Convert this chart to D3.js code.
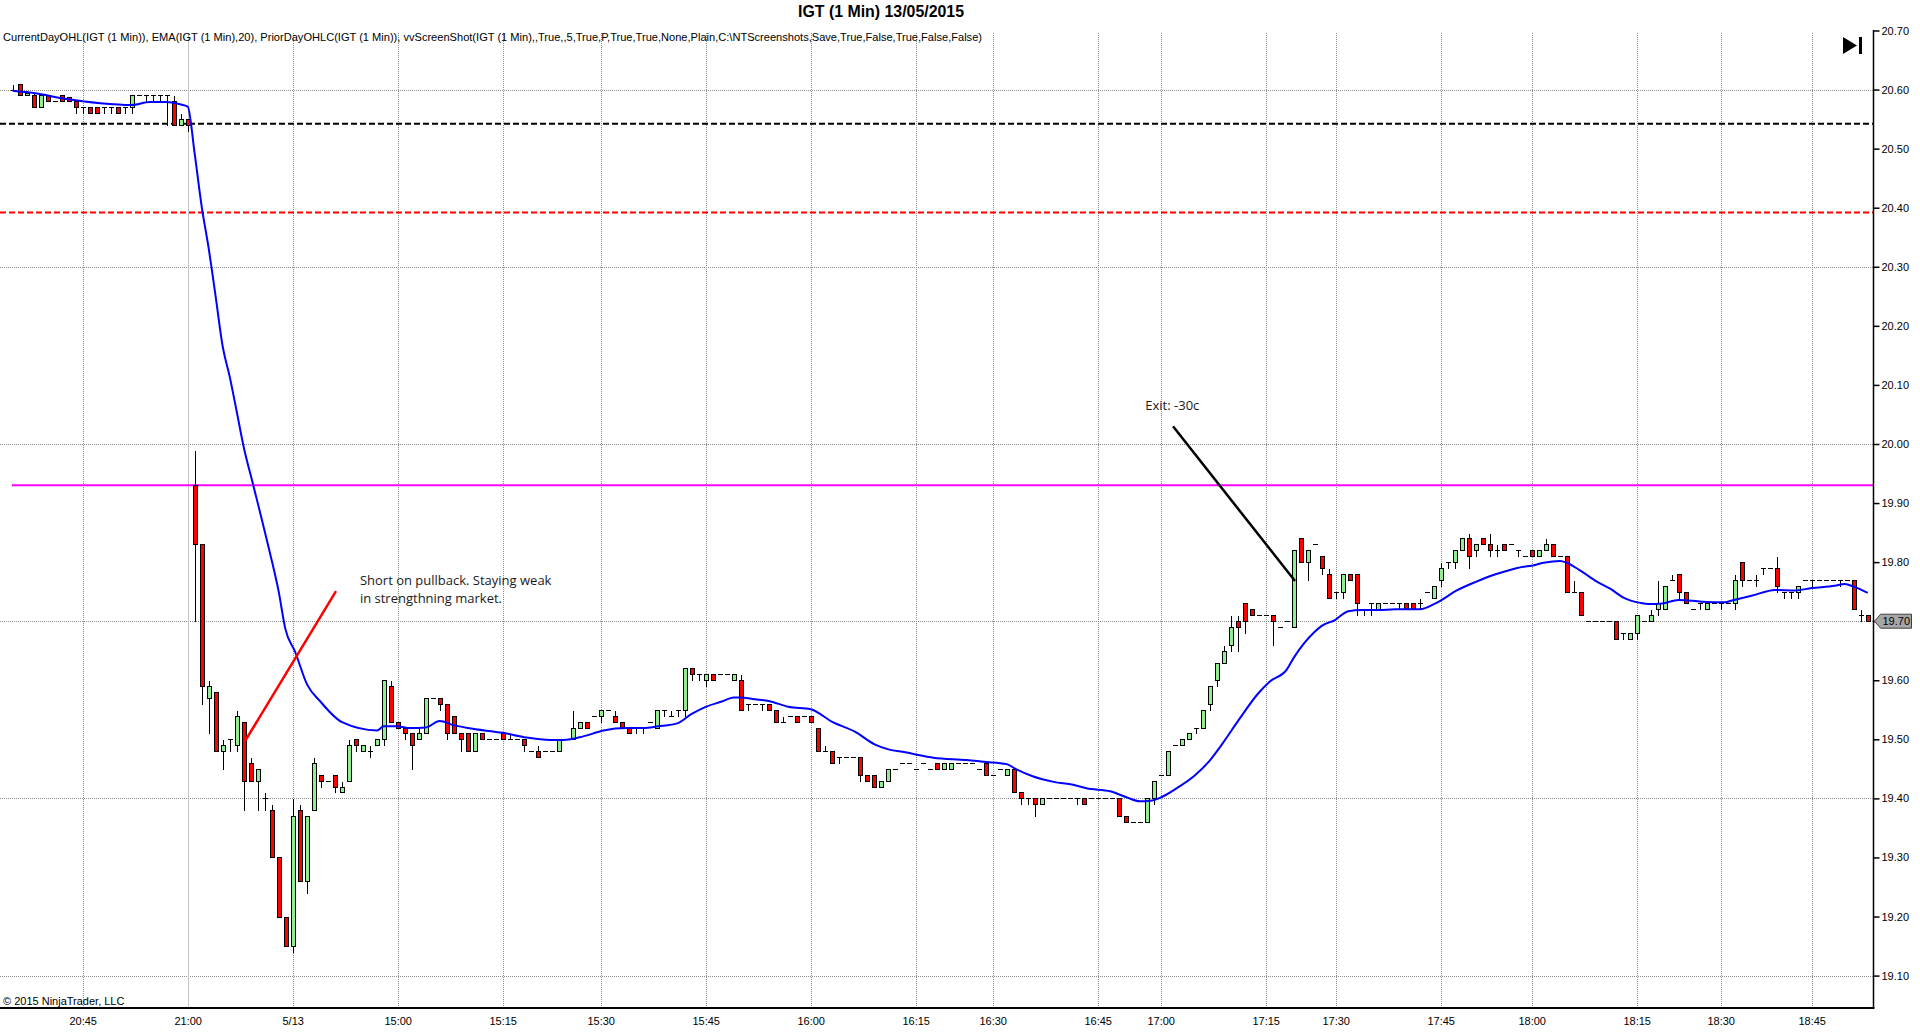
<!DOCTYPE html>
<html>
<head>
<meta charset="utf-8">
<title>IGT (1 Min) 13/05/2015</title>
<script src="https://cdn.jsdelivr.net/npm/d3@7"></script>
<style>
  html, body { margin: 0; padding: 0; background: #fff; }
  svg { display: block; }
  .axis text { font-family: "Liberation Sans", Arial, sans-serif; font-size: 11px; fill: #000; }
</style>
</head>
<body>
<div id="chart"></div>
<script>
// bar data, one value per 1-minute bar (bar 0 = 20:35 prior day)
const opens = [
  20.60,20.61,20.59,20.59,20.57,20.59,20.58,20.59,20.588,20.58,
  20.57,20.57,20.57,20.57,20.57,20.57,20.57,20.57,20.59,20.59,
  20.59,20.59,20.59,20.58,20.54,20.55,19.93,19.83,19.57,19.58,
  19.48,19.50,19.49,19.53,19.46,19.43,19.40,19.38,19.30,19.20,
  19.15,19.38,19.26,19.38,19.44,19.43,19.44,19.41,19.43,19.50,
  19.48,19.48,19.49,19.50,19.59,19.53,19.52,19.51,19.50,19.51,
  19.57,19.57,19.56,19.54,19.51,19.51,19.48,19.51,19.50,19.50,
  19.51,19.50,19.50,19.50,19.48,19.48,19.48,19.48,19.48,19.50,
  19.50,19.52,19.53,19.54,19.54,19.55,19.54,19.53,19.52,19.52,
  19.52,19.53,19.52,19.55,19.54,19.55,19.55,19.62,19.61,19.60,
  19.61,19.61,19.61,19.60,19.60,19.56,19.56,19.56,19.56,19.55,
  19.53,19.54,19.54,19.54,19.54,19.52,19.48,19.48,19.47,19.47,
  19.47,19.47,19.44,19.44,19.42,19.43,19.45,19.46,19.46,19.45,
  19.46,19.45,19.46,19.45,19.45,19.46,19.46,19.46,19.45,19.46,
  19.44,19.45,19.44,19.45,19.41,19.40,19.40,19.39,19.40,19.40,
  19.40,19.40,19.40,19.40,19.40,19.40,19.40,19.40,19.40,19.37,
  19.36,19.36,19.36,19.40,19.44,19.44,19.49,19.49,19.50,19.52,
  19.52,19.56,19.60,19.63,19.66,19.70,19.73,19.72,19.71,19.71,
  19.71,19.69,19.70,19.69,19.84,19.80,19.83,19.81,19.78,19.75,
  19.75,19.78,19.78,19.72,19.73,19.72,19.73,19.73,19.73,19.73,
  19.73,19.73,19.75,19.74,19.77,19.80,19.80,19.82,19.84,19.82,
  19.84,19.83,19.82,19.83,19.83,19.82,19.81,19.82,19.81,19.82,
  19.83,19.81,19.81,19.75,19.75,19.70,19.70,19.70,19.70,19.70,
  19.68,19.67,19.68,19.70,19.70,19.72,19.72,19.77,19.78,19.75,
  19.72,19.73,19.72,19.73,19.73,19.73,19.73,19.80,19.77,19.77,
  19.79,19.79,19.79,19.75,19.75,19.75,19.77,19.77,19.77,19.77,
  19.77,19.77,19.77,19.77,19.71,19.71
];
const highs = [
  20.61,20.61,20.60,20.595,20.595,20.59,20.58,20.59,20.588,20.58,
  20.57,20.57,20.57,20.57,20.57,20.57,20.57,20.59,20.59,20.59,
  20.59,20.59,20.59,20.59,20.56,20.55,19.99,19.83,19.60,19.58,
  19.50,19.50,19.55,19.53,19.47,19.45,19.41,19.39,19.30,19.20,
  19.40,19.39,19.37,19.47,19.44,19.43,19.44,19.43,19.50,19.50,
  19.49,19.49,19.50,19.60,19.60,19.53,19.52,19.51,19.52,19.57,
  19.57,19.57,19.56,19.54,19.51,19.51,19.51,19.51,19.50,19.50,
  19.51,19.51,19.50,19.50,19.48,19.49,19.48,19.48,19.50,19.50,
  19.55,19.53,19.53,19.54,19.55,19.55,19.55,19.53,19.52,19.52,
  19.52,19.53,19.55,19.55,19.55,19.55,19.62,19.62,19.61,19.61,
  19.61,19.61,19.61,19.61,19.61,19.56,19.56,19.56,19.56,19.55,
  19.54,19.54,19.54,19.54,19.54,19.52,19.49,19.48,19.47,19.47,
  19.47,19.47,19.44,19.44,19.43,19.45,19.45,19.46,19.46,19.45,
  19.46,19.45,19.46,19.46,19.46,19.46,19.46,19.46,19.45,19.46,
  19.44,19.45,19.45,19.45,19.41,19.40,19.40,19.40,19.40,19.40,
  19.40,19.40,19.40,19.40,19.40,19.40,19.40,19.40,19.40,19.37,
  19.36,19.36,19.40,19.43,19.44,19.48,19.49,19.50,19.51,19.52,
  19.55,19.59,19.63,19.66,19.71,19.71,19.73,19.72,19.71,19.71,
  19.71,19.69,19.70,19.82,19.84,19.82,19.83,19.81,19.79,19.75,
  19.78,19.78,19.78,19.72,19.73,19.73,19.73,19.73,19.73,19.73,
  19.73,19.74,19.75,19.76,19.80,19.80,19.82,19.84,19.85,19.83,
  19.84,19.85,19.83,19.83,19.83,19.82,19.81,19.82,19.82,19.84,
  19.83,19.81,19.81,19.77,19.75,19.70,19.70,19.70,19.70,19.70,
  19.68,19.68,19.71,19.70,19.72,19.77,19.76,19.78,19.78,19.75,
  19.72,19.73,19.73,19.73,19.73,19.73,19.78,19.80,19.77,19.78,
  19.79,19.79,19.81,19.75,19.75,19.76,19.77,19.77,19.77,19.77,
  19.77,19.77,19.77,19.77,19.72,19.71
];
const lows = [
  20.60,20.59,20.59,20.57,20.57,20.58,20.58,20.58,20.58,20.56,
  20.56,20.56,20.56,20.56,20.56,20.56,20.56,20.56,20.59,20.58,
  20.58,20.58,20.54,20.54,20.54,20.53,19.70,19.56,19.51,19.48,
  19.45,19.48,19.48,19.38,19.43,19.38,19.38,19.30,19.20,19.15,
  19.14,19.26,19.24,19.38,19.42,19.43,19.41,19.41,19.43,19.48,
  19.48,19.47,19.49,19.49,19.53,19.52,19.50,19.45,19.50,19.51,
  19.57,19.55,19.50,19.51,19.48,19.48,19.48,19.50,19.50,19.50,
  19.50,19.50,19.50,19.48,19.48,19.47,19.48,19.48,19.48,19.50,
  19.50,19.52,19.52,19.54,19.53,19.55,19.53,19.52,19.51,19.51,
  19.51,19.53,19.52,19.54,19.54,19.54,19.54,19.60,19.60,19.59,
  19.60,19.61,19.61,19.60,19.55,19.55,19.56,19.55,19.55,19.53,
  19.53,19.54,19.53,19.54,19.53,19.48,19.48,19.46,19.46,19.47,
  19.47,19.43,19.43,19.42,19.42,19.43,19.45,19.46,19.46,19.45,
  19.46,19.45,19.45,19.45,19.45,19.46,19.46,19.46,19.45,19.44,
  19.44,19.45,19.44,19.41,19.39,19.39,19.37,19.39,19.40,19.40,
  19.40,19.40,19.39,19.39,19.40,19.40,19.40,19.40,19.37,19.36,
  19.36,19.36,19.36,19.39,19.44,19.44,19.49,19.49,19.50,19.51,
  19.52,19.55,19.59,19.63,19.65,19.65,19.68,19.71,19.71,19.71,
  19.66,19.69,19.70,19.69,19.80,19.77,19.83,19.78,19.74,19.74,
  19.74,19.77,19.71,19.71,19.71,19.72,19.73,19.73,19.72,19.72,
  19.72,19.72,19.75,19.74,19.76,19.79,19.79,19.82,19.79,19.81,
  19.83,19.81,19.81,19.82,19.83,19.81,19.81,19.81,19.81,19.82,
  19.81,19.81,19.75,19.75,19.71,19.70,19.70,19.70,19.70,19.67,
  19.67,19.67,19.67,19.70,19.70,19.71,19.72,19.77,19.74,19.73,
  19.72,19.72,19.72,19.73,19.72,19.73,19.72,19.76,19.77,19.76,
  19.78,19.79,19.75,19.74,19.74,19.74,19.77,19.76,19.77,19.77,
  19.77,19.76,19.77,19.72,19.70,19.70
];
const closes = [
  20.60,20.59,20.595,20.57,20.59,20.58,20.58,20.58,20.58,20.57,
  20.57,20.56,20.56,20.57,20.57,20.56,20.57,20.59,20.59,20.59,
  20.59,20.59,20.59,20.54,20.55,20.54,19.83,19.59,19.59,19.48,
  19.49,19.50,19.54,19.43,19.43,19.45,19.40,19.30,19.20,19.15,
  19.37,19.26,19.37,19.46,19.43,19.43,19.42,19.42,19.49,19.49,
  19.49,19.48,19.50,19.60,19.53,19.52,19.51,19.49,19.51,19.57,
  19.57,19.56,19.51,19.51,19.50,19.48,19.51,19.50,19.50,19.50,
  19.50,19.50,19.50,19.49,19.48,19.47,19.48,19.48,19.50,19.50,
  19.52,19.53,19.52,19.54,19.55,19.55,19.53,19.52,19.51,19.52,
  19.52,19.53,19.55,19.55,19.54,19.55,19.62,19.61,19.61,19.61,
  19.60,19.61,19.61,19.61,19.55,19.56,19.56,19.56,19.55,19.53,
  19.53,19.54,19.53,19.54,19.53,19.48,19.48,19.46,19.47,19.47,
  19.47,19.44,19.43,19.42,19.43,19.45,19.45,19.46,19.46,19.45,
  19.46,19.45,19.45,19.46,19.46,19.46,19.46,19.46,19.45,19.44,
  19.44,19.45,19.45,19.41,19.40,19.40,19.39,19.40,19.40,19.40,
  19.40,19.40,19.40,19.39,19.40,19.40,19.40,19.40,19.37,19.36,
  19.36,19.36,19.40,19.43,19.44,19.48,19.49,19.50,19.51,19.52,
  19.55,19.59,19.63,19.65,19.69,19.69,19.70,19.71,19.71,19.71,
  19.70,19.69,19.70,19.82,19.80,19.82,19.83,19.79,19.74,19.75,
  19.78,19.77,19.73,19.72,19.73,19.73,19.73,19.73,19.73,19.72,
  19.72,19.73,19.75,19.76,19.79,19.80,19.82,19.84,19.81,19.83,
  19.83,19.82,19.82,19.82,19.83,19.82,19.81,19.81,19.82,19.83,
  19.81,19.81,19.75,19.75,19.71,19.70,19.70,19.70,19.70,19.67,
  19.68,19.68,19.71,19.70,19.71,19.73,19.76,19.77,19.75,19.73,
  19.72,19.73,19.73,19.73,19.73,19.73,19.77,19.77,19.77,19.77,
  19.79,19.79,19.76,19.75,19.75,19.76,19.77,19.77,19.77,19.77,
  19.77,19.77,19.77,19.72,19.71,19.70
];

// EMA(20) as traced on the chart: bar position / value
const emaBars = [
  0,3,7.7,12.5,17,19.6,21.9,23.9,25,26,27,28,29,30,31,32,33,34.33,36.33,38,38.95,
  40.38,42.05,43.95,47.05,52.05,53,54.9,56.8,59,61,63,65,70,73.4,76.8,78.7,81.5,
  84.4,87.7,90.1,92.2,94.9,97,99,101.3,103,104,106,108,110.8,114,117,120.3,123.2,
  125.1,127.5,129.6,131.5,136.3,138.7,142,143.4,145.8,148.7,151.5,153.4,156.8,159.1,
  161,162.5,163.9,166,168.9,171,172.9,175.1,177.95,179.6,182,182.95,186,187,188.9,
  190.8,192.7,195.1,197.5,201,203.4,206.3,209.1,211,213.4,215.8,217,218.7,221.05,
  222,223.9,226.3,228.2,230.1,232.5,233.7,235.6,238,241.3,244.6,245.6,248.4,251.8,
  254.6,257,260.3,261.7,263.1,265
];
const emaVals = [
  20.598,20.594,20.584,20.577,20.574,20.579,20.579,20.575,20.571,20.491,20.402,20.331,
  20.249,20.165,20.114,20.055,19.995,19.932,19.836,19.750,19.687,19.647,19.593,19.564,
  19.529,19.515,19.522,19.522,19.519,19.520,19.531,19.524,19.519,19.511,19.503,19.499,
  19.499,19.505,19.515,19.519,19.519,19.522,19.527,19.543,19.555,19.564,19.571,19.571,
  19.568,19.565,19.555,19.551,19.530,19.513,19.491,19.483,19.478,19.473,19.469,19.465,
  19.462,19.458,19.449,19.437,19.428,19.423,19.417,19.412,19.402,19.395,19.396,19.401,
  19.415,19.439,19.464,19.494,19.532,19.578,19.598,19.618,19.637,19.682,19.692,19.702,
  19.717,19.719,19.719,19.720,19.720,19.731,19.752,19.767,19.776,19.785,19.792,19.794,
  19.799,19.802,19.799,19.786,19.767,19.755,19.740,19.731,19.729,19.730,19.736,19.733,
  19.732,19.735,19.743,19.753,19.752,19.756,19.760,19.763,19.758,19.748
];

// time axis: bar index of each labelled minute
const tickBars = [10,25,40,55,70,84,99,114,129,140,155,164,179,189,204,217,232,244,257];
const tickLabels = ["20:45","21:00","5/13","15:00","15:15","15:30","15:45","16:00","16:15",
  "16:30","16:45","17:00","17:15","17:30","17:45","18:00","18:15","18:30","18:45"];
const sessionBreakBar = 25;

// price axis
const priceTicks = [20.70,20.60,20.50,20.40,20.30,20.20,20.10,20.00,19.90,19.80,19.70,19.60,19.50,19.40,19.30,19.20,19.10];
const priceGrid = [20.60,20.30,20.00,19.70,19.40,19.10];

// indicator levels
const priorClose = 20.542;
const priorLow = 20.392;
const currentOpen = 19.93;

// drawn annotations: [bar, price] end points
const shortLine = [[33.19, 19.497], [46.19, 19.751]];
const exitLine = [[165.76, 20.030], [183.19, 19.768]];
const shortNote = ["Short on pullback. Staying weak", "in strengthning market."];
const shortNoteAt = [49.6, 19.762];
const exitNote = "Exit: -30c";
const exitNoteAt = [161.8, 20.058];

const W = 1920, H = 1034;
const axisX = 1873.5, bottomY = 1008;

const svg = d3.select("#chart").append("svg")
    .attr("width", W)
    .attr("height", H);

const x = d3.scaleLinear().domain([0, 265]).range([12.7, 1867.7]);
const y = d3.scaleLinear().domain([19.10, 20.70]).range([975.6, 30.5]);
const px = v => Math.round(x(v));
const py = v => Math.round(y(v)) + 0.5;

// grid
const grid = svg.append("g").attr("shape-rendering", "crispEdges");
grid.selectAll(".hgrid")
    .data(priceGrid)
    .enter().append("line")
    .attr("x1", 0).attr("x2", axisX)
    .attr("y1", d => py(d)).attr("y2", d => py(d))
    .attr("stroke", "#8c8c8c")
    .attr("stroke-dasharray", "1,1");

grid.selectAll(".vgrid")
    .data(tickBars)
    .enter().append("line")
    .attr("x1", d => px(d) + 0.5).attr("x2", d => px(d) + 0.5)
    .attr("y1", 33).attr("y2", bottomY)
    .attr("stroke", d => d === sessionBreakBar ? "#c4c4c4" : "#8c8c8c")
    .attr("stroke-width", d => d === sessionBreakBar ? 1.5 : 1)
    .attr("stroke-dasharray", d => d === sessionBreakBar ? null : "1,1");

// prior day / current day levels
svg.append("line")
    .attr("x1", 0).attr("x2", axisX)
    .attr("y1", y(priorClose)).attr("y2", y(priorClose))
    .attr("stroke", "#000").attr("stroke-width", 2)
    .attr("stroke-dasharray", "6,3");
svg.append("line")
    .attr("x1", 0).attr("x2", axisX)
    .attr("y1", y(priorLow)).attr("y2", y(priorLow))
    .attr("stroke", "#ff0000").attr("stroke-width", 2)
    .attr("stroke-dasharray", "6,3");
svg.append("line")
    .attr("x1", 12).attr("x2", axisX)
    .attr("y1", y(currentOpen)).attr("y2", y(currentOpen))
    .attr("stroke", "#ff00ff").attr("stroke-width", 2);

// candles
const bars = d3.range(opens.length).map(i => ({
    i: i, o: opens[i], h: highs[i], l: lows[i], c: closes[i]
}));

const candle = svg.append("g")
    .attr("shape-rendering", "crispEdges")
    .selectAll(".candle")
    .data(bars)
    .enter().append("g")
    .attr("class", "candle");

candle.append("line")
    .attr("x1", d => px(d.i) + 0.5).attr("x2", d => px(d.i) + 0.5)
    .attr("y1", d => py(d.h)).attr("y2", d => py(d.l))
    .attr("stroke", "#000");

candle.filter(d => Math.abs(d.c - d.o) >= 0.004)
    .append("rect")
    .attr("x", d => px(d.i) - 1.5)
    .attr("width", 4)
    .attr("y", d => py(Math.max(d.o, d.c)))
    .attr("height", d => Math.max(1, py(Math.min(d.o, d.c)) - py(Math.max(d.o, d.c))))
    .attr("fill", d => d.c > d.o ? "#90ee90" : "#ff0000")
    .attr("stroke", "#000");

candle.filter(d => Math.abs(d.c - d.o) < 0.004)
    .append("line")
    .attr("x1", d => px(d.i) - 2).attr("x2", d => px(d.i) + 3)
    .attr("y1", d => py(d.o)).attr("y2", d => py(d.o))
    .attr("stroke", "#000");

// EMA
const emaLine = d3.line()
    .x(d => x(d[0]))
    .y(d => y(d[1]))
    .curve(d3.curveMonotoneX);

svg.append("path")
    .datum(emaBars.map((b, k) => [b, emaVals[k]]))
    .attr("d", emaLine)
    .attr("fill", "none")
    .attr("stroke", "#0000ff")
    .attr("stroke-width", 2);

// annotations
svg.append("line")
    .attr("x1", x(shortLine[0][0])).attr("y1", y(shortLine[0][1]))
    .attr("x2", x(shortLine[1][0])).attr("y2", y(shortLine[1][1]))
    .attr("stroke", "#ff0000").attr("stroke-width", 2.5);
svg.append("line")
    .attr("x1", x(exitLine[0][0])).attr("y1", y(exitLine[0][1]))
    .attr("x2", x(exitLine[1][0])).attr("y2", y(exitLine[1][1]))
    .attr("stroke", "#000").attr("stroke-width", 2.5);

const note = svg.append("text")
    .attr("x", x(shortNoteAt[0]))
    .attr("y", y(shortNoteAt[1]))
    .style("font-family", "'Open Sans', 'Noto Sans', sans-serif")
    .style("font-size", "13px")
    .style("fill", "#1a1a1a");
note.selectAll("tspan")
    .data(shortNote)
    .enter().append("tspan")
    .attr("x", x(shortNoteAt[0]))
    .attr("dy", (d, k) => k === 0 ? 0 : 18)
    .text(d => d);

svg.append("text")
    .attr("x", x(exitNoteAt[0]))
    .attr("y", y(exitNoteAt[1]))
    .style("font-family", "'Open Sans', 'Noto Sans', sans-serif")
    .style("font-size", "13px")
    .style("fill", "#1a1a1a")
    .text(exitNote);

// price axis on the right
const yAxis = svg.append("g")
    .attr("class", "axis")
    .attr("transform", `translate(${axisX},0)`)
    .call(d3.axisRight(y)
        .tickValues(priceTicks)
        .tickFormat(d3.format(".2f"))
        .tickSize(6)
        .tickSizeOuter(0)
        .tickPadding(2));
yAxis.select(".domain").remove();
yAxis.selectAll(".tick line").attr("stroke", "#000").attr("stroke-width", 1.5);

svg.append("line")
    .attr("x1", axisX).attr("x2", axisX)
    .attr("y1", 30).attr("y2", bottomY)
    .attr("stroke", "#000").attr("stroke-width", 1.5);

// time axis along the bottom
const xAxis = svg.append("g")
    .attr("class", "axis")
    .attr("transform", `translate(0,${bottomY})`)
    .call(d3.axisBottom(x)
        .tickValues(tickBars)
        .tickFormat((d, k) => tickLabels[k])
        .tickSize(0)
        .tickPadding(9));
xAxis.select(".domain").remove();

svg.append("line")
    .attr("x1", 0).attr("x2", axisX + 1)
    .attr("y1", bottomY).attr("y2", bottomY)
    .attr("stroke", "#000").attr("stroke-width", 2);

// last price marker
const lastY = y(closes[closes.length - 1]);
svg.append("path")
    .attr("d", `M${axisX + 1},${lastY} L${axisX + 7},${lastY - 7} L${axisX + 38},${lastY - 7} L${axisX + 38},${lastY + 7} L${axisX + 7},${lastY + 7} Z`)
    .attr("fill", "#a6a6a6")
    .attr("stroke", "#404040");
svg.append("text")
    .attr("x", axisX + 9)
    .attr("y", lastY + 4)
    .style("font-family", "'Liberation Sans', Arial, sans-serif")
    .style("font-size", "11px")
    .text(d3.format(".2f")(closes[closes.length - 1]));

// title and indicator line
svg.append("text")
    .attr("x", 881)
    .attr("y", 17)
    .attr("text-anchor", "middle")
    .attr("textLength", 166)
    .attr("lengthAdjust", "spacingAndGlyphs")
    .style("font-family", "'Liberation Sans Narrow', 'Liberation Sans', Arial, sans-serif")
    .style("font-weight", "bold")
    .style("font-size", "16px")
    .text("IGT (1 Min)  13/05/2015");

svg.append("text")
    .attr("x", 3)
    .attr("y", 41)
    .attr("textLength", 979)
    .attr("lengthAdjust", "spacingAndGlyphs")
    .style("font-family", "'Liberation Sans Narrow', 'Liberation Sans', Arial, sans-serif")
    .style("font-size", "11px")
    .text("CurrentDayOHL(IGT (1 Min)), EMA(IGT (1 Min),20), PriorDayOHLC(IGT (1 Min)), vvScreenShot(IGT (1 Min),,True,,5,True,P,True,True,None,Plain,C:\\NTScreenshots,Save,True,False,True,False,False)");

svg.append("text")
    .attr("x", 3)
    .attr("y", 1005)
    .style("font-family", "'Liberation Sans', Arial, sans-serif")
    .style("font-size", "11px")
    .text("\u00a9 2015 NinjaTrader, LLC");

// "scroll to end" button glyph
svg.append("path")
    .attr("d", "M1843,37 L1843,54 L1857,45.5 Z")
    .attr("fill", "#000");
svg.append("rect")
    .attr("x", 1859).attr("y", 37)
    .attr("width", 3).attr("height", 17)
    .attr("fill", "#000");
</script>
</body>
</html>
